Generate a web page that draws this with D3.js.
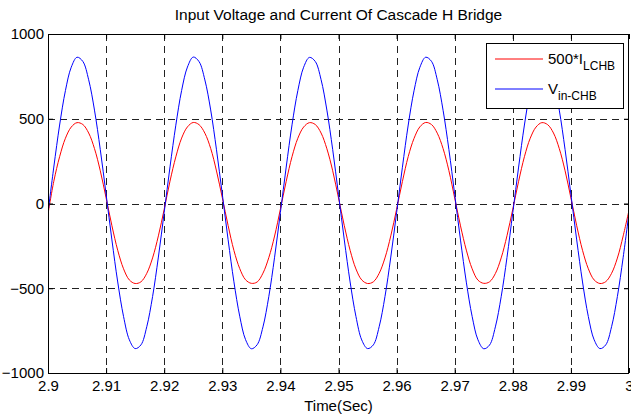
<!DOCTYPE html>
<html>
<head>
<meta charset="utf-8">
<script src="https://cdn.jsdelivr.net/npm/d3@7"></script>
<style>
  body { margin: 0; background: #fff; }
  svg { display: block; font-family: "Liberation Sans", Arial, sans-serif; }
</style>
</head>
<body>
<svg width="631" height="416"></svg>
<script>
// samples every 1 ms from 2.900 s to 3.000 s
var tStart = 2.9, tStep = 0.001;

var vin = [
  -54, 215, 463, 666, 804, 863, 838, 730, 551, 318, 54, -215, -463, -666, -804, -856, -834, -727, -549, -316,
  -52, 216, 462, 667, 805, 864, 837, 729, 552, 317, 55, -214, -462, -665, -803, -857, -833, -728, -550, -317,
  -53, 215, 464, 666, 804, 862, 838, 731, 551, 318, 53, -215, -463, -666, -805, -856, -834, -727, -549, -316,
  -54, 214, 463, 665, 803, 863, 839, 730, 550, 319, 54, -216, -464, -666, -804, -857, -835, -728, -550, -318,
  -53, 215, 463, 666, 804, 863, 838, 730, 551, 318, 54, -215, -463, -667, -804, -856, -834, -727, -549, -317,
  -54
];

var iL = [
  -62, 131, 276, 385, 451, 477, 466, 416, 324, 193, 33, -131, -276, -385, -451, -472, -462, -412, -321, -191,
  -34, 132, 275, 386, 452, 478, 465, 415, 325, 192, 34, -130, -277, -384, -450, -471, -463, -411, -320, -192,
  -33, 131, 276, 385, 451, 477, 466, 416, 323, 193, 33, -131, -276, -386, -451, -472, -462, -412, -321, -191,
  -34, 130, 277, 384, 452, 478, 466, 415, 324, 194, 32, -132, -275, -385, -452, -471, -462, -413, -321, -190,
  -33, 131, 276, 385, 451, 477, 465, 416, 324, 193, 33, -131, -276, -385, -451, -472, -461, -412, -322, -191,
  -40
];

var xTicks = [2.9, 2.91, 2.92, 2.93, 2.94, 2.95, 2.96, 2.97, 2.98, 2.99, 3.0];
var xTickLabels = ["2.9", "2.91", "2.92", "2.93", "2.94", "2.95", "2.96", "2.97", "2.98", "2.99", "3"];
var yTicks = [-1000, -500, 0, 500, 1000];

var svg = d3.select("svg"),
    margin = {top: 34, left: 48, bottom: 43, right: 2},
    width = +svg.attr("width") - margin.left - margin.right,
    height = +svg.attr("height") - margin.top - margin.bottom;

var x = d3.scaleLinear().domain([2.9, 3.0]).range([0, width]);
var y = d3.scaleLinear().domain([-1000, 1000]).range([height, 0]);

var g = svg.append("g")
    .attr("transform", "translate(" + margin.left + "," + margin.top + ")");

// grid
g.append("g")
  .selectAll("line")
    .data(xTicks.slice(1, -1))
  .enter().append("line")
    .attr("x1", function(d) { return Math.round(x(d)) + 0.5; })
    .attr("x2", function(d) { return Math.round(x(d)) + 0.5; })
    .attr("y1", 0).attr("y2", height)
    .attr("stroke", "#222")
    .attr("stroke-dasharray", "7,5");

g.append("g")
  .selectAll("line")
    .data(yTicks.slice(1, -1))
  .enter().append("line")
    .attr("y1", function(d) { return Math.round(y(d)) + 0.5; })
    .attr("y2", function(d) { return Math.round(y(d)) + 0.5; })
    .attr("x1", 0).attr("x2", width)
    .attr("stroke", "#222")
    .attr("stroke-dasharray", "7,5");

// series
g.append("clipPath").attr("id", "clip")
  .append("rect").attr("width", width).attr("height", height);

var line = d3.line()
    .curve(d3.curveCatmullRom.alpha(0.5))
    .x(function(d, i) { return x(tStart + i * tStep); })
    .y(function(d) { return y(d); });

var plot = g.append("g").attr("clip-path", "url(#clip)");

plot.append("path")
    .attr("fill", "none")
    .attr("stroke", "#ff0000")
    .attr("stroke-width", 1)
    .attr("d", line(iL));

plot.append("path")
    .attr("fill", "none")
    .attr("stroke", "#0000ff")
    .attr("stroke-width", 1)
    .attr("d", line(vin));

// axes (MATLAB style: inward ticks, box)
var xAxis = d3.axisBottom(x).tickValues(xTicks)
    .tickFormat(function(d, i) { return xTickLabels[i]; })
    .tickSizeInner(-5).tickSizeOuter(0).tickPadding(7);
var yAxis = d3.axisLeft(y).tickValues(yTicks)
    .tickFormat(d3.format("d"))
    .tickSizeInner(-5).tickSizeOuter(0).tickPadding(4);

g.append("g")
    .attr("transform", "translate(0," + height + ")")
    .call(xAxis);
g.append("g")
    .call(yAxis);
g.append("g")
    .call(d3.axisTop(x).tickValues(xTicks).tickFormat("").tickSizeInner(-5).tickSizeOuter(0));
g.append("g")
    .attr("transform", "translate(" + width + ",0)")
    .call(d3.axisRight(y).tickValues(yTicks).tickFormat("").tickSizeInner(-5).tickSizeOuter(0));

g.selectAll(".tick text")
    .attr("fill", "#000")
    .style("font-size", "15px")
    .style("font-family", "Liberation Sans, Arial, sans-serif");
g.selectAll(".tick line").attr("stroke", "#000");
g.selectAll(".domain").remove();

g.append("rect")
    .attr("x", 0.5).attr("y", 0.5)
    .attr("width", width - 1).attr("height", height)
    .attr("fill", "none")
    .attr("stroke", "#000");

// title and label
svg.append("text")
    .attr("x", margin.left + width / 2)
    .attr("y", 20)
    .attr("text-anchor", "middle")
    .style("font-size", "15.5px")
    .text("Input Voltage and Current Of Cascade H Bridge");

svg.append("text")
    .attr("x", margin.left + width / 2)
    .attr("y", 411)
    .attr("text-anchor", "middle")
    .style("font-size", "15px")
    .text("Time(Sec)");

// legend
var legend = svg.append("g").attr("transform", "translate(486,43)");
legend.append("rect")
    .attr("x", 0.5).attr("y", 0.5)
    .attr("width", 137).attr("height", 65)
    .attr("fill", "#fff")
    .attr("stroke", "#000");

var entries = [
  {color: "#ff0000", main: "500*I", sub: "LCHB"},
  {color: "#0000ff", main: "V", sub: "in-CHB"}
];

var item = legend.selectAll("g.item")
    .data(entries)
  .enter().append("g")
    .attr("class", "item")
    .attr("transform", function(d, i) { return "translate(0," + (16 + i * 30) + ")"; });

item.append("line")
    .attr("x1", 9).attr("x2", 57)
    .attr("y1", 0).attr("y2", 0)
    .attr("stroke", function(d) { return d.color; });

var label = item.append("text")
    .attr("x", 62)
    .attr("y", 5)
    .style("font-size", "15px");
label.append("tspan").text(function(d) { return d.main; });
label.append("tspan")
    .attr("dy", 6)
    .style("font-size", "12px")
    .text(function(d) { return d.sub; });
</script>
</body>
</html>
